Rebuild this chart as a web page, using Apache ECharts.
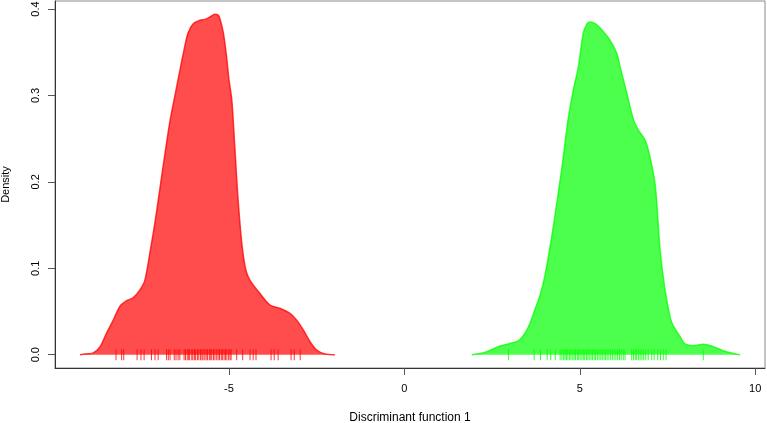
<!DOCTYPE html>
<html><head><meta charset="utf-8">
<script src="https://cdn.jsdelivr.net/npm/echarts@6/dist/echarts.min.js"></script>
<style>html,body{margin:0;padding:0;background:#fff}#c{width:767px;height:423px}</style>
</head><body><div id="c"></div>
<script>
// Density curve of group 1 (red): [x, density]
var redDensity = [
  [-9.25,0],[-9.02,0.001],[-8.87,0.002],[-8.68,0.009],[-8.49,0.025],[-8.30,0.040],[-8.11,0.056],
  [-7.92,0.0625],[-7.73,0.066],[-7.54,0.075],[-7.40,0.086],[-7.25,0.119],[-7.11,0.153],[-6.97,0.192],
  [-6.82,0.234],[-6.68,0.271],[-6.54,0.300],[-6.40,0.329],[-6.28,0.353],[-6.17,0.372],[-6.02,0.383],
  [-5.83,0.387],[-5.69,0.388],[-5.54,0.391],[-5.40,0.394],[-5.31,0.393],[-5.26,0.389],[-5.16,0.372],
  [-5.07,0.345],[-5.00,0.318],[-4.92,0.295],[-4.83,0.237],[-4.74,0.179],[-4.63,0.127],[-4.52,0.098],
  [-4.40,0.086],[-4.12,0.071],[-3.83,0.0575],[-3.55,0.0537],[-3.27,0.048],[-3.07,0.040],[-2.88,0.0286],
  [-2.69,0.015],[-2.50,0.0054],[-2.26,0.0008],[-1.98,0]
];
// Density curve of group 2 (green): [x, density]
var greenDensity = [
  [1.92,0],[2.16,0.0014],[2.35,0.0035],[2.73,0.010],[3.01,0.013],[3.25,0.016],[3.44,0.025],[3.58,0.036],
  [3.72,0.052],[3.87,0.069],[4.01,0.092],[4.21,0.139],[4.38,0.185],[4.52,0.225],[4.66,0.270],[4.81,0.305],
  [4.96,0.333],[5.10,0.372],[5.21,0.383],[5.29,0.385],[5.44,0.383],[5.58,0.378],[5.86,0.364],[6.05,0.349],
  [6.15,0.333],[6.34,0.3025],[6.53,0.272],[6.67,0.260],[6.86,0.2485],[7.00,0.229],[7.15,0.196],[7.29,0.121],
  [7.43,0.075],[7.58,0.0425],[7.67,0.033],[7.86,0.021],[8.00,0.0124],[8.24,0.0104],[8.52,0.012],
  [8.81,0.0093],[9.09,0.0046],[9.48,0.0005],[9.57,0]
];
// Rug (observations) for each group
var redRug = [-8.22,-8.06,-8.00,-7.62,-7.51,-7.42,-7.21,-7.11,-7.02,-6.78,-6.73,-6.68,-6.56,-6.51,-6.45,-6.40,
  -6.28,-6.24,-6.19,-6.15,-6.12,-6.06,-6.03,-5.98,-5.95,-5.90,-5.86,-5.81,-5.77,-5.74,-5.69,-5.65,-5.61,-5.56,
  -5.52,-5.49,-5.44,-5.40,-5.35,-5.31,-5.27,-5.22,-5.19,-5.14,-5.10,-5.06,-5.01,-4.97,-4.94,-4.78,-4.61,-4.40,
  -4.31,-4.23,-3.80,-3.71,-3.60,-3.23,-3.14,-2.97];
var greenRug = [2.97,3.70,3.88,4.07,4.17,4.30,4.44,4.49,4.54,4.58,4.62,4.66,4.71,4.75,4.80,4.84,4.88,4.93,4.97,
  5.01,5.06,5.10,5.14,5.19,5.23,5.27,5.32,5.36,5.41,5.45,5.50,5.55,5.60,5.64,5.69,5.73,5.78,5.83,5.88,5.93,5.98,
  6.03,6.08,6.13,6.18,6.24,6.29,6.48,6.53,6.58,6.62,6.67,6.72,6.77,6.82,6.88,6.95,7.05,7.12,7.22,7.30,7.38,7.46,8.52];
var xTicks = [-5, 0, 5, 10];
var yTicks = [0, 0.1, 0.2, 0.3, 0.4];
var xTitle = 'Discriminant function 1';
var yTitle = 'Density';

var FONT = 'Liberation Sans, Arial, sans-serif';
var chart = echarts.init(document.getElementById('c'), null, {renderer:'canvas'});
chart.setOption({
  animation: false,
  grid: {left:55, right:2, top:1, bottom:55, containLabel:false, outerBoundsMode:'none',
    show:true, borderColor:'#8a8a8a', borderWidth:1},
  xAxis: {
    type:'value', min:-9.96, max:10.28,
    name: xTitle, nameLocation:'middle', nameGap:44,
    nameTextStyle:{fontFamily:FONT, fontSize:12, color:'#000'},
    axisLine:{show:true, onZero:false, lineStyle:{color:'#333', width:1}},
    axisTick:{show:true, length:7, inside:false, customValues:xTicks, lineStyle:{color:'#555'}},
    axisLabel:{customValues:xTicks, margin:15, fontFamily:FONT, fontSize:11, color:'#000',
      formatter:function(v){return String(v);}},
    splitLine:{show:false}
  },
  yAxis: {
    type:'value', min:-0.0154, max:0.4093,
    name: yTitle, nameLocation:'middle', nameGap:44, nameRotate:90,
    nameTextStyle:{fontFamily:FONT, fontSize:11, color:'#000'},
    axisLine:{show:true, onZero:false, lineStyle:{color:'#333', width:1}},
    axisTick:{show:true, length:7, customValues:yTicks, lineStyle:{color:'#555'}},
    axisLabel:{customValues:yTicks, rotate:90, margin:14, fontFamily:FONT, fontSize:11, color:'#000',
      formatter:function(v){return v.toFixed(1);}},
    splitLine:{show:false}
  },
  series: [
    {type:'line', data:redDensity, smooth:0.3, showSymbol:false, z:2,
      lineStyle:{color:'rgba(255,0,0,0.75)', width:1.5},
      areaStyle:{color:'rgba(255,0,0,0.7)', opacity:1}},
    {type:'line', data:greenDensity, smooth:0.3, showSymbol:false, z:2,
      lineStyle:{color:'rgba(0,255,0,0.75)', width:1.5},
      areaStyle:{color:'rgba(0,255,0,0.7)', opacity:1}},
    {type:'scatter', data:redRug.map(function(v){return [v,0];}), symbol:'rect', symbolSize:[1,11], z:3,
      itemStyle:{color:'#ff0000'}, silent:true},
    {type:'scatter', data:greenRug.map(function(v){return [v,0];}), symbol:'rect', symbolSize:[1,11], z:3,
      itemStyle:{color:'#00ff00'}, silent:true}
  ]
});
</script></body></html>
